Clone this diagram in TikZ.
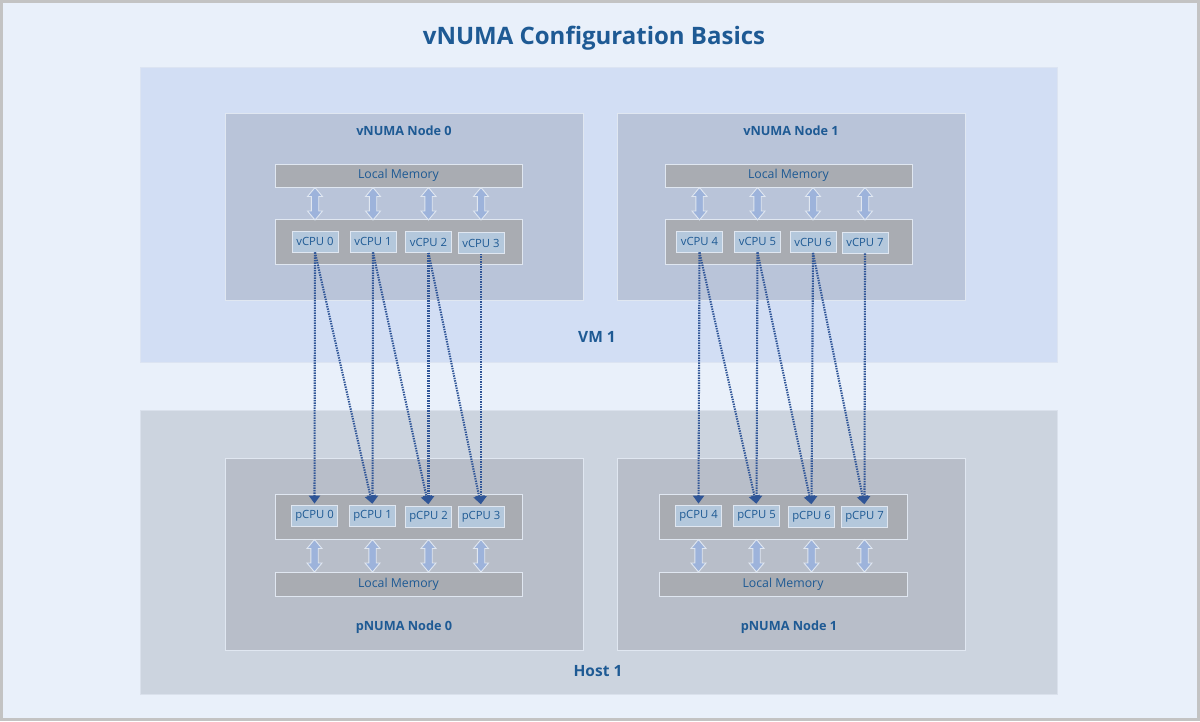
\documentclass[tikz,border=0pt]{standalone}
\usepackage{fontspec}
\setmainfont{Open Sans}
\usetikzlibrary{arrows.meta}

\definecolor{framegray}{HTML}{C3C3C3}
\definecolor{pagebg}{HTML}{E9F0FA}
\definecolor{vmfill}{HTML}{D2DEF4}
\definecolor{hostfill}{HTML}{CCD4DF}
\definecolor{vnumafill}{HTML}{B9C4D9}
\definecolor{pnumafill}{HTML}{B8BEC9}
\definecolor{grayfill}{HTML}{A9ACB2}
\definecolor{cpufill}{HTML}{B4C8DC}
\definecolor{boxline}{HTML}{E0E7F1}
\definecolor{textblue}{HTML}{1E5A94}
\definecolor{linkblue}{HTML}{2F5597}
\definecolor{fatarrow}{HTML}{9DB3DB}

\begin{document}
\begin{tikzpicture}[x=1pt,y=-1pt,
  every node/.style={inner sep=0pt, text=textblue},
  area/.style={draw=boxline!70!#1, fill=#1, line width=0.8pt, minimum width=917pt},
  memory/.style={draw=boxline, fill=grayfill, line width=1pt, minimum width=247pt, minimum height=23pt, font=\fontsize{12.3}{14}\selectfont},
  cpugroup/.style={draw=boxline, fill=grayfill, line width=1pt, minimum width=247pt, minimum height=45pt},
  cpu/.style={draw=boxline, fill=cpufill, line width=0.8pt, minimum width=46pt, minimum height=21pt, font=\fontsize{11.3}{13}\selectfont},
  boxlabel/.style={font=\fontsize{12.7}{15}\selectfont\bfseries},
  arealabel/.style={font=\fontsize{15.5}{18}\selectfont\bfseries},
  maplink/.style={draw=linkblue, line width=2.1pt, dash pattern=on 1.4pt off 1.1pt, -{Triangle[width=11pt,length=8pt]}, shorten >=1.5pt},
  memlink/.style={draw=boxline, fill=fatarrow, line width=0.9pt, line join=miter}]
 \useasboundingbox (0,0) rectangle (1200,721);
 \fill[framegray] (0,0) rectangle (1200,721);
 \fill[pagebg] (3,3) rectangle (1197,718);

 \node[font=\fontsize{24}{28}\selectfont\bfseries] (title) at (594,38) {vNUMA Configuration Basics};

 % VM 1 and Host 1
 \node[area=vmfill, minimum height=295pt] (vm) at (598.5,214.5) {};
 \node[area=hostfill, minimum height=284pt] (host) at (598.5,552) {};
 \node[arealabel] (vmlabel) at (597,337) {VM 1};
 \node[arealabel] (hostlabel) at (598,671) {Host 1};

 % vNUMA nodes
 \node[draw=boxline, fill=vnumafill, line width=1pt, minimum width=358pt, minimum height=187pt] (vnuma0) at (404,206.5) {};
 \node[draw=boxline, fill=vnumafill, line width=1pt, minimum width=348pt, minimum height=187pt] (vnuma1) at (791,206.5) {};
 \node[boxlabel] (vnuma0label) at (404,131) {vNUMA Node 0};
 \node[boxlabel] (vnuma1label) at (791,131) {vNUMA Node 1};
 \node[memory] (vmem0) at (398.5,175.5) {Local Memory};
 \node[memory] (vmem1) at (788.5,175.5) {Local Memory};
 \node[cpugroup] (vgroup0) at (398.5,241.5) {};
 \node[cpugroup] (vgroup1) at (788.5,241.5) {};
 \node[cpu] (vcpu0) at (315,241.5) {vCPU 0};
 \node[cpu] (vcpu1) at (373,241.5) {vCPU 1};
 \node[cpu] (vcpu2) at (428.5,242) {vCPU 2};
 \node[cpu] (vcpu3) at (481,243) {vCPU 3};
 \node[cpu] (vcpu4) at (699.5,241.5) {vCPU 4};
 \node[cpu] (vcpu5) at (757.5,241.5) {vCPU 5};
 \node[cpu] (vcpu6) at (813,242) {vCPU 6};
 \node[cpu] (vcpu7) at (865,242.5) {vCPU 7};

 % pNUMA nodes
 \node[draw=boxline, fill=pnumafill, line width=1pt, minimum width=358pt, minimum height=192pt] (pnuma0) at (404,554) {};
 \node[draw=boxline, fill=pnumafill, line width=1pt, minimum width=348pt, minimum height=192pt] (pnuma1) at (791,554) {};
 \node[boxlabel] (pnuma0label) at (404,627) {pNUMA Node 0};
 \node[boxlabel] (pnuma1label) at (789,627) {pNUMA Node 1};
 \node[cpugroup] (pgroup0) at (398.5,516.5) {};
 \node[cpugroup, minimum width=248pt] (pgroup1) at (783,516.5) {};
 \node[memory, minimum height=24pt] (pmem0) at (398.5,584) {Local Memory};
 \node[memory, minimum height=24pt, minimum width=248pt] (pmem1) at (783,584) {Local Memory};
 \node[cpu] (pcpu0) at (314.5,516) {pCPU 0};
 \node[cpu] (pcpu1) at (372.5,516) {pCPU 1};
 \node[cpu] (pcpu2) at (428.5,516.5) {pCPU 2};
 \node[cpu] (pcpu3) at (481,516.5) {pCPU 3};
 \node[cpu] (pcpu4) at (698.5,516) {pCPU 4};
 \node[cpu] (pcpu5) at (756.5,516) {pCPU 5};
 \node[cpu] (pcpu6) at (811.5,516.5) {pCPU 6};
 \node[cpu] (pcpu7) at (864.5,516.5) {pCPU 7};

 % memory <-> cpu (fat double arrows)
 \foreach \c/\m in {vcpu0/vmem0,vcpu1/vmem0,vcpu2/vmem0,vcpu3/vmem0,vcpu4/vmem1,vcpu5/vmem1,vcpu6/vmem1,vcpu7/vmem1,
                    pcpu0/pgroup0,pcpu1/pgroup0,pcpu2/pgroup0,pcpu3/pgroup0,pcpu4/pgroup1,pcpu5/pgroup1,pcpu6/pgroup1,pcpu7/pgroup1}
   \draw[memlink] (\c |- \m.south) -- ++(7.5,9) -- ++(-3.8,0) -- ++(0,14.5) -- ++(3.8,0) -- ++(-7.5,9)
     -- ++(-7.5,-9) -- ++(3.8,0) -- ++(0,-14.5) -- ++(-3.8,0) -- cycle;

 % vCPU -> pCPU mapping
 \draw[maplink] (vcpu0.south) -- (pcpu0.north);
 \draw[maplink] (vcpu0.south) -- (pcpu1.north);
 \draw[maplink] (vcpu1.south) -- (pcpu1.north);
 \draw[maplink] (vcpu1.south) -- (pcpu2.north);
 \draw[maplink] (vcpu2.south) -- (pcpu2.north);
 \draw[maplink] (vcpu2.south) -- (pcpu3.north);
 \draw[maplink] (vcpu3.south) -- (pcpu3.north);
 \draw[maplink] (vcpu4.south) -- (pcpu4.north);
 \draw[maplink] (vcpu4.south) -- (pcpu5.north);
 \draw[maplink] (vcpu5.south) -- (pcpu5.north);
 \draw[maplink] (vcpu5.south) -- (pcpu6.north);
 \draw[maplink] (vcpu6.south) -- (pcpu6.north);
 \draw[maplink] (vcpu6.south) -- (pcpu7.north);
 \draw[maplink] (vcpu7.south) -- (pcpu7.north);
\end{tikzpicture}
\end{document}
